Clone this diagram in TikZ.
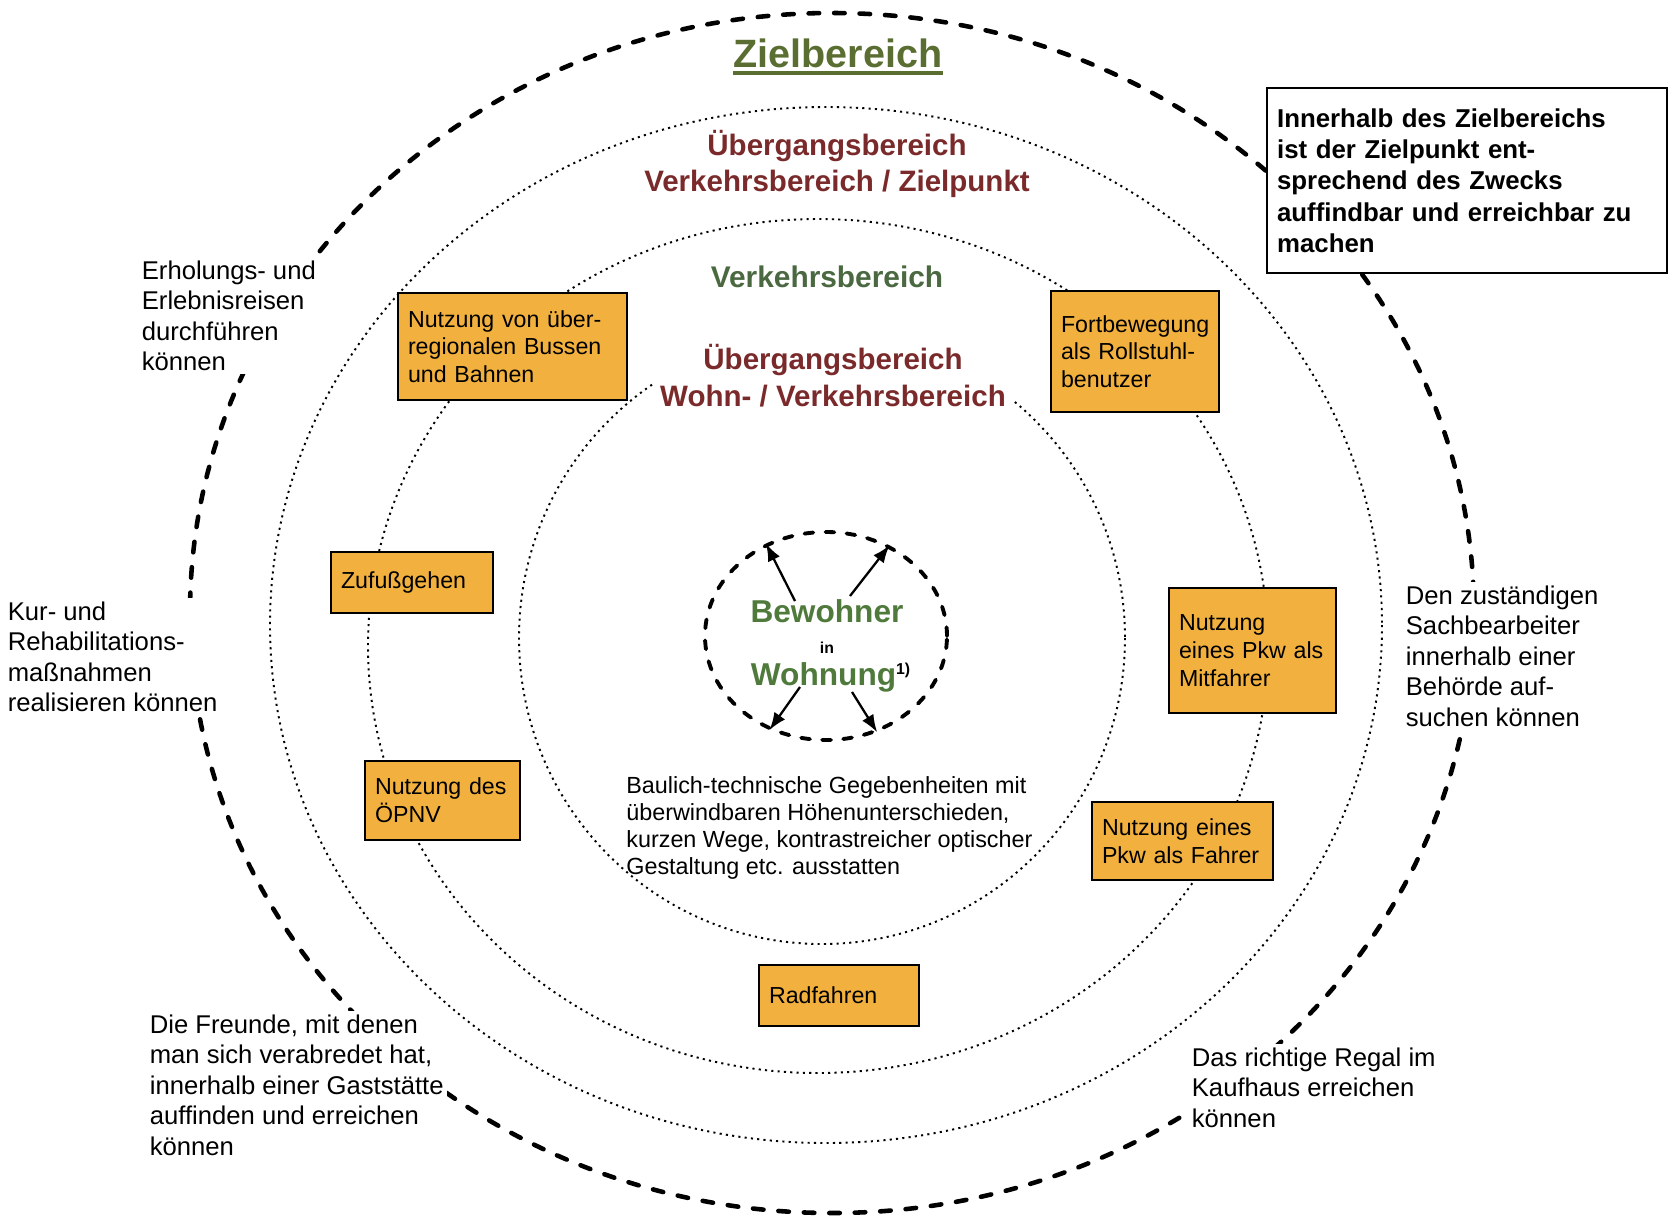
\documentclass[tikz,border=0pt]{standalone}
\usepackage{fontspec}
\setmainfont{Liberation Sans}
\usepackage{tikz}
\usetikzlibrary{arrows.meta,positioning,calc,shapes.geometric}
\definecolor{boxfill}{HTML}{F2B13E}
\definecolor{zgreen}{HTML}{5A6E32}
\definecolor{vgreen}{HTML}{4B6941}
\definecolor{bgreen}{HTML}{4F7A3C}
\definecolor{ured}{HTML}{7A2A2A}
\newcommand{\fs}[2]{\fontsize{#1}{#2}\selectfont}
\tikzset{
  mbox/.style n args={2}{draw=black,line width=1.3pt,fill=boxfill,align=left,
    inner xsep=0.2cm,inner ysep=0pt,text width=(#1-20)*0.02cm,
    minimum height=#2*0.02cm,font=\fs{13.2}{15.8}},
  note/.style={anchor=north west,align=left,inner sep=2pt,fill=white,
    font=\fs{14.6}{17.3}},
  callout/.style={draw=black,line width=1.2pt,fill=white,anchor=north west,
    align=left,inner xsep=0.2cm,text width=380*0.02cm,minimum height=185*0.02cm,
    font=\bfseries\fs{14.7}{17.8}},
  zone/.style={draw=black,line width=1.1pt,dash pattern=on 1.2pt off 2.4pt},
  zgoal/.style={draw=black,line width=2.6pt,line cap=round,dash pattern=on 6pt off 8.5pt},
  homering/.style={ellipse,draw=black,line width=2.2pt,line cap=round,
    dash pattern=on 5pt off 7pt,inner sep=0pt},
  head/.style={font=\bfseries\fs{16.8}{21},text=ured,align=center},
  outarr/.style={-{Latex[length=10pt,width=7.5pt]},line width=1.3pt},
}

\begin{document}
\begin{tikzpicture}[x=0.02cm,y=-0.02cm]
  \useasboundingbox (0,0) rectangle (1672,1221);
  % zones
  \draw[zgoal] (832,613) ellipse [x radius=642, y radius=600];
  \draw[zone] (826,625) ellipse [x radius=556, y radius=518];
  \draw[zone] (818,646) ellipse [x radius=450, y radius=427];
  \draw[zone] (822,638) ellipse [x radius=303, y radius=306];

  \node[inner sep=0pt,font=\bfseries\fs{22.5}{26},text=zgreen] (zb) at (838,53) {Zielbereich};
  \draw[zgreen,line width=2pt] ($(zb.base west)+(0,6)$) -- ($(zb.base east)+(0,6)$);
  \node[head] (ueb1) at (837,164) {Übergangsbereich\\Verkehrsbereich / Zielpunkt};
  \node[font=\bfseries\fs{17}{21},text=vgreen] (verk) at (827,277) {Verkehrsbereich};
  \node[head,fill=white,inner xsep=4pt,inner ysep=12pt] (ueb2) at (833,376) {Übergangsbereich\\Wohn- / Verkehrsbereich};

  \node[callout] (info) at (1266,87) {Innerhalb des Zielbereichs\\ist der Zielpunkt ent-\\
    sprechend des Zwecks\\auffindbar und erreichbar zu\\machen};

  % modes of travel
  \node[mbox={229}{107}] (bus) at (512.5,346.5) {Nutzung von über-\\regionalen Bussen\\und Bahnen};
  \node[mbox={168}{121}] (roll) at (1135,351.5) {Fortbewegung\\als Rollstuhl-\\benutzer};
  \node[mbox={162}{61}] (fuss) at (412,582.5) {Zufußgehen};
  \node[mbox={167}{125}] (mitf) at (1252.5,650.5) {Nutzung\\eines Pkw als\\Mitfahrer};
  \node[mbox={155}{79}] (oepnv) at (442.5,800.5) {Nutzung des\\ÖPNV};
  \node[mbox={181}{78}] (fahr) at (1182.5,841) {Nutzung eines\\Pkw als Fahrer};
  \node[mbox={160}{61}] (rad) at (839,995.5) {Radfahren};

  % goals outside
  \node[note] (erh) at (138,257) {Erholungs- und\\Erlebnisreisen\\durchführen\\können};
  \node[note] (kur) at (4,598) {Kur- und\\Rehabilitations-\\maßnahmen\\realisieren können};
  \node[note] (freu) at (146,1011) {Die Freunde, mit denen\\man sich verabredet hat,\\
    innerhalb einer Gaststätte\\auffinden und erreichen\\können};
  \node[note] (regal) at (1188,1044) {Das richtige Regal im\\Kaufhaus erreichen\\können};
  \node[note] (beh) at (1402,582) {Den zuständigen\\Sachbearbeiter\\innerhalb einer\\Behörde auf-\\suchen können};

  % home
  \node[homering,minimum width=242*0.02cm,minimum height=208*0.02cm] (home) at (826,636) {};
  \node[font=\bfseries\fs{18}{21},text=bgreen,inner sep=0pt] (bew) at (827,611) {Bewohner};
  \node[font=\bfseries\fs{9}{11},inner sep=0pt] (in) at (827,648) {in};
  \node[font=\bfseries\fs{18}{21},text=bgreen,inner sep=0pt] (woh) at (831,677) {Wohnung\textsuperscript{\fs{9}{10}\color{black}1)}};
  \draw[outarr] ($(bew.center)+(-32,-10)$) -- (home.123.5);
  \draw[outarr] ($(bew.center)+(23,-15)$) -- (home.55.5);
  \draw[outarr] ($(woh.center)+(-31,10)$) -- (home.239);
  \draw[outarr] ($(woh.center)+(21,15)$) -- (home.298);

  \node[anchor=north west,align=left,inner sep=0pt,font=\fs{13.3}{15.4}] (baul) at (626,776)
    {Baulich-technische Gegebenheiten mit\\überwindbaren Höhenunterschieden,\\
     kurzen Wege, kontrastreicher optischer\\Gestaltung etc. ausstatten};
\end{tikzpicture}
\end{document}
